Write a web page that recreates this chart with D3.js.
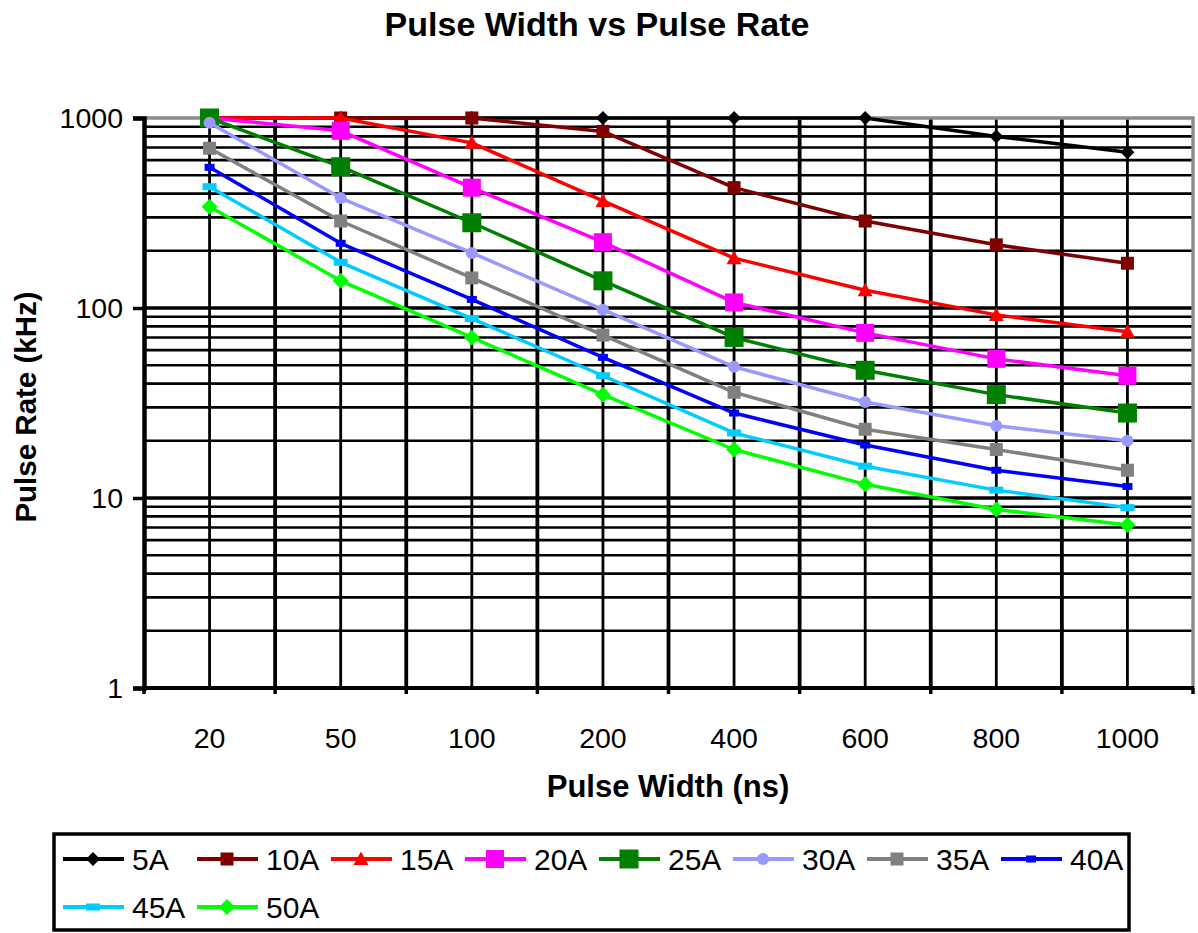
<!DOCTYPE html>
<html>
<head>
<meta charset="utf-8">
<script src="https://cdn.jsdelivr.net/npm/d3@7/dist/d3.min.js"></script>
<style>
  html, body { margin: 0; padding: 0; background: #fff; }
  svg { display: block; font-family: "Liberation Sans", Arial, sans-serif; }
</style>
</head>
<body>
<svg id="chart" width="1198" height="933"></svg>
<script>
// Pulse widths (ns) shown as categories along the x axis
const pulseWidths = ["20", "50", "100", "200", "400", "600", "800", "1000"];

// Maximum pulse rate (kHz) for each drive current
const rate5A  = [1000, 1000, 1000, 1000, 1000, 1000, 800, 660];
const rate10A = [1000, 1000, 1000, 850, 430, 287, 215, 172];
const rate15A = [1000, 1000, 740, 366, 183, 124, 92, 75];
const rate20A = [1000, 856, 430, 222, 107, 74, 54, 44];
const rate25A = [1000, 554, 281, 139, 70, 47, 35, 28];
const rate30A = [944, 379, 195, 98, 49, 32, 24, 20];
const rate35A = [693, 287, 144, 72, 36, 23, 18, 14];
const rate40A = [550, 219, 111, 55, 28, 19, 14, 11.5];
const rate45A = [435, 174, 88, 44, 22, 14.7, 11, 8.9];
const rate50A = [341, 139, 70, 35, 18, 11.8, 8.7, 7.2];

const seriesNames = ["5A", "10A", "15A", "20A", "25A", "30A", "35A", "40A", "45A", "50A"];
const yTickValues = [1, 10, 100, 1000];

// Line colour and marker style per series
const styles = [
  { color: "#000000", marker: "diamond", size: 14 },
  { color: "#800000", marker: "square", size: 13 },
  { color: "#FF0000", marker: "triangle", size: 15 },
  { color: "#FF00FF", marker: "square", size: 18 },
  { color: "#008000", marker: "square", size: 19 },
  { color: "#9999FF", marker: "circle", size: 12 },
  { color: "#808080", marker: "square", size: 13 },
  { color: "#0000FF", marker: "dash", size: 10 },
  { color: "#00CCFF", marker: "dash", size: 14 },
  { color: "#00FF00", marker: "diamond", size: 16 }
];

const series = [rate5A, rate10A, rate15A, rate20A, rate25A, rate30A, rate35A, rate40A, rate45A, rate50A]
  .map((vals, i) => ({ name: seriesNames[i], values: vals, style: styles[i] }));

const svg = d3.select("#chart");

const plot = { left: 144, right: 1193, top: 118, bottom: 688 };

const x = d3.scaleBand().domain(pulseWidths).range([plot.left, plot.right]).padding(0);
const y = d3.scaleLog().domain([1, 1000]).range([plot.bottom, plot.top]);

// Title
svg.append("text")
  .attr("x", 597).attr("y", 36)
  .attr("text-anchor", "middle")
  .attr("font-size", 34).attr("font-weight", "bold")
  .text("Pulse Width vs Pulse Rate");

// Horizontal grid: every 1..9 step of each decade
const gridVals = [];
for (const d of [1, 10, 100]) {
  for (let k = 2; k <= 10; k++) gridVals.push(k * d);
}
const grid = svg.append("g");
grid.selectAll("line.h")
  .data(gridVals.filter(v => v < 1000))
  .join("line")
  .attr("x1", plot.left).attr("x2", plot.right)
  .attr("y1", d => y(d)).attr("y2", d => y(d))
  .attr("stroke", "#000")
  .attr("stroke-width", d => (d === 10 || d === 100) ? 3.4 : 2.6);

// Vertical grid: category boundaries (heavier) and category centres
const boundaries = pulseWidths.slice(1).map(c => x(c));
grid.selectAll("line.vb")
  .data(boundaries)
  .join("line")
  .attr("x1", d => d).attr("x2", d => d)
  .attr("y1", plot.top).attr("y2", plot.bottom)
  .attr("stroke", "#000").attr("stroke-width", 3.8);
grid.selectAll("line.vc")
  .data(pulseWidths)
  .join("line")
  .attr("x1", d => x(d) + x.bandwidth() / 2).attr("x2", d => x(d) + x.bandwidth() / 2)
  .attr("y1", plot.top).attr("y2", plot.bottom)
  .attr("stroke", "#000").attr("stroke-width", 2.8);

// Plot area border (top and right)
svg.append("path")
  .attr("d", `M${plot.left},${plot.top}H${plot.right}V${plot.bottom}`)
  .attr("fill", "none").attr("stroke", "#8c8c8c").attr("stroke-width", 3.4);

// Y axis
const yAxis = d3.axisLeft(y)
  .tickValues(yTickValues)
  .tickFormat(d3.format("d"))
  .tickSize(11)
  .tickPadding(10);
const gy = svg.append("g").attr("transform", `translate(${plot.left},0)`).call(yAxis);
gy.select(".domain").attr("stroke", "#000").attr("stroke-width", 4.5);
gy.selectAll(".tick line").attr("stroke", "#000").attr("stroke-width", 3.5);
gy.selectAll(".tick text").attr("font-size", 28.5).attr("fill", "#000")
  .attr("font-family", "'Liberation Sans', Arial, sans-serif");

// X axis: labels at category centres, ticks at category boundaries
const xAxis = d3.axisBottom(x).tickSize(0).tickPadding(40);
const gx = svg.append("g").attr("transform", `translate(0,${plot.bottom})`).call(xAxis);
gx.select(".domain").remove();
gx.selectAll(".tick text").attr("font-size", 28.5).attr("fill", "#000")
  .attr("font-family", "'Liberation Sans', Arial, sans-serif");
gx.append("line")
  .attr("x1", plot.left - 2).attr("x2", plot.right + 1)
  .attr("y1", 0).attr("y2", 0)
  .attr("stroke", "#000").attr("stroke-width", 4);
gx.selectAll("line.xt")
  .data([plot.left].concat(boundaries).concat([plot.right]))
  .join("line")
  .attr("class", "xt")
  .attr("x1", d => d).attr("x2", d => d)
  .attr("y1", 0).attr("y2", 6)
  .attr("stroke", "#000").attr("stroke-width", 3.5);

// Axis titles
svg.append("text")
  .attr("x", 668).attr("y", 797)
  .attr("text-anchor", "middle")
  .attr("font-size", 31).attr("font-weight", "bold")
  .text("Pulse Width (ns)");
svg.append("text")
  .attr("transform", "translate(36,407) rotate(-90)")
  .attr("text-anchor", "middle")
  .attr("font-size", 29.5).attr("font-weight", "bold")
  .text("Pulse Rate (kHz)");

// Marker drawing helper
function drawMarker(g, style, cx, cy) {
  const s = style.size, c = style.color;
  if (style.marker === "square") {
    g.append("rect").attr("x", cx - s / 2).attr("y", cy - s / 2)
      .attr("width", s).attr("height", s).attr("fill", c);
  } else if (style.marker === "diamond") {
    const h = s / 2;
    g.append("path").attr("d", `M${cx},${cy - h}L${cx + h},${cy}L${cx},${cy + h}L${cx - h},${cy}Z`)
      .attr("fill", c);
  } else if (style.marker === "triangle") {
    const h = s / 2;
    g.append("path").attr("d", `M${cx},${cy - h}L${cx + h},${cy + h * 0.8}L${cx - h},${cy + h * 0.8}Z`)
      .attr("fill", c);
  } else if (style.marker === "circle") {
    g.append("circle").attr("cx", cx).attr("cy", cy).attr("r", s / 2).attr("fill", c);
  } else if (style.marker === "dash") {
    g.append("rect").attr("x", cx - s / 2).attr("y", cy - 3.5)
      .attr("width", s).attr("height", 7).attr("fill", c);
  }
}

// Series lines and markers
const line = d3.line()
  .x((d, i) => x(pulseWidths[i]) + x.bandwidth() / 2)
  .y(d => y(d));

const seriesG = svg.append("g");
series.forEach(s => {
  const g = seriesG.append("g");
  g.append("path")
    .attr("d", line(s.values))
    .attr("fill", "none")
    .attr("stroke", s.style.color)
    .attr("stroke-width", 3.5)
    .attr("stroke-linejoin", "round");
  s.values.forEach((v, i) => {
    drawMarker(g, s.style, x(pulseWidths[i]) + x.bandwidth() / 2, y(v));
  });
});

// Legend
const legend = svg.append("g");
legend.append("rect")
  .attr("x", 54).attr("y", 834).attr("width", 1075).attr("height", 96)
  .attr("fill", "#fff").attr("stroke", "#000").attr("stroke-width", 3.5);

const perRow = 8, itemW = 134, rowY = [859, 907];
series.forEach((s, i) => {
  const col = i % perRow, row = Math.floor(i / perRow);
  const lx = 63 + col * itemW, ly = rowY[row];
  const g = legend.append("g");
  g.append("line")
    .attr("x1", lx).attr("x2", lx + 61)
    .attr("y1", ly).attr("y2", ly)
    .attr("stroke", s.style.color).attr("stroke-width", 4);
  drawMarker(g, s.style, lx + 30, ly);
  g.append("text")
    .attr("x", lx + 69).attr("y", ly + 11)
    .attr("font-size", 30)
    .text(s.name);
});
</script>
</body>
</html>
